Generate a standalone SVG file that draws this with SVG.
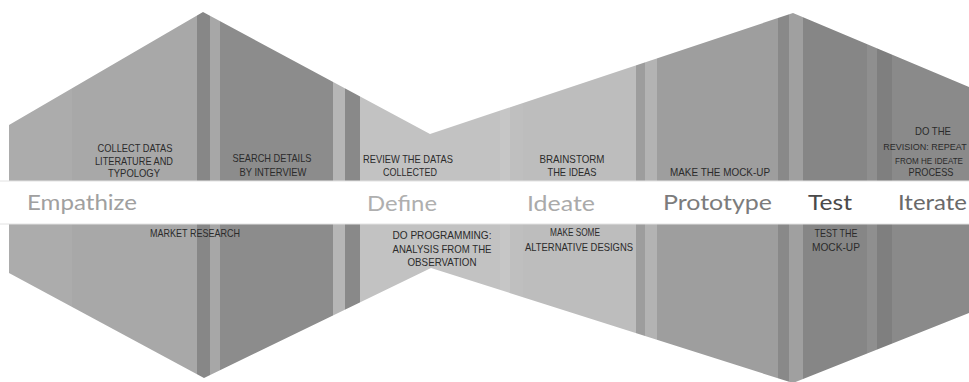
<svg xmlns="http://www.w3.org/2000/svg" width="969" height="382" viewBox="0 0 969 382">
  <defs>
    <clipPath id="outline">
      <polygon points="9,125 203,12 430,134 793,13 969,87 969,313 793,383 431,268 204,378 9,273"/>
    </clipPath>
    <style>
      .stage { font-family: "Lato", "Liberation Sans", sans-serif; font-size: 21px; }
      .note { font-family: "Liberation Sans", Arial, sans-serif; font-size: 10.5px; fill: #2b2b2b; text-anchor: middle; }
      .notes { font-family: "Liberation Sans", Arial, sans-serif; font-size: 9px; fill: #2b2b2b; text-anchor: middle; }
    </style>
  </defs>
  <rect width="969" height="382" fill="#ffffff"/>
  <g id="shape" clip-path="url(#outline)">
    <rect x="0" y="0" width="72" height="382" fill="#acacac"/>
    <rect x="72" y="0" width="125" height="382" fill="#a8a8a8"/>
    <rect x="197" y="0" width="13" height="382" fill="#878787"/>
    <rect x="210" y="0" width="10" height="382" fill="#a7a7a7"/>
    <rect x="220" y="0" width="113" height="382" fill="#8c8c8c"/>
    <rect x="333" y="0" width="12" height="382" fill="#b6b6b6"/>
    <rect x="345" y="0" width="15" height="382" fill="#898989"/>
    <rect x="360" y="0" width="140" height="382" fill="#c2c2c2"/>
    <rect x="500" y="0" width="10" height="382" fill="#c6c6c6"/>
    <rect x="510" y="0" width="13" height="382" fill="#bfbfbf"/>
    <rect x="523" y="0" width="113" height="382" fill="#bdbdbd"/>
    <rect x="636" y="0" width="9" height="382" fill="#9d9d9d"/>
    <rect x="645" y="0" width="12" height="382" fill="#b3b3b3"/>
    <rect x="657" y="0" width="121" height="382" fill="#9e9e9e"/>
    <rect x="778" y="0" width="11" height="382" fill="#898989"/>
    <rect x="789" y="0" width="14" height="382" fill="#a0a0a0"/>
    <rect x="803" y="0" width="64" height="382" fill="#868686"/>
    <rect x="867" y="0" width="10" height="382" fill="#8f8f8f"/>
    <rect x="877" y="0" width="15" height="382" fill="#7f7f7f"/>
    <rect x="892" y="0" width="77" height="382" fill="#8a8a8a"/>
  </g>
  <g id="band">
    <rect x="0" y="181" width="969" height="43" fill="#ffffff"/>
    <line x1="0" y1="181" x2="969" y2="181" stroke="#e2e2e2" stroke-width="1"/>
    <line x1="0" y1="224" x2="969" y2="224" stroke="#e2e2e2" stroke-width="1"/>
  </g>
  <g id="empathize">
    <text class="stage" x="27" y="210" fill="#a0a0a0" textLength="110" lengthAdjust="spacingAndGlyphs">Empathize</text>
    <text class="note" x="135" y="152" textLength="75" lengthAdjust="spacingAndGlyphs">COLLECT DATAS</text>
    <text class="note" x="134" y="165" textLength="78" lengthAdjust="spacingAndGlyphs">LITERATURE AND</text>
    <text class="note" x="134" y="177" textLength="52" lengthAdjust="spacingAndGlyphs">TYPOLOGY</text>
    <text class="note" x="272" y="162" textLength="79" lengthAdjust="spacingAndGlyphs">SEARCH DETAILS</text>
    <text class="note" x="273" y="176" textLength="67" lengthAdjust="spacingAndGlyphs">BY INTERVIEW</text>
    <text class="note" x="195" y="237" textLength="90" lengthAdjust="spacingAndGlyphs">MARKET RESEARCH</text>
  </g>
  <g id="define">
    <text class="stage" x="367" y="211" fill="#afafaf" textLength="70" lengthAdjust="spacingAndGlyphs">Define</text>
    <text class="note" x="408" y="163" textLength="90" lengthAdjust="spacingAndGlyphs">REVIEW THE DATAS</text>
    <text class="note" x="410" y="176" textLength="54" lengthAdjust="spacingAndGlyphs">COLLECTED</text>
    <text class="note" x="442" y="239" textLength="99" lengthAdjust="spacingAndGlyphs">DO PROGRAMMING:</text>
    <text class="note" x="442" y="253" textLength="99" lengthAdjust="spacingAndGlyphs">ANALYSIS FROM THE</text>
    <text class="note" x="442" y="266" textLength="69" lengthAdjust="spacingAndGlyphs">OBSERVATION</text>
  </g>
  <g id="ideate">
    <text class="stage" x="527" y="211" fill="#aaaaaa" textLength="68" lengthAdjust="spacingAndGlyphs">Ideate</text>
    <text class="note" x="572" y="163" textLength="65" lengthAdjust="spacingAndGlyphs">BRAINSTORM</text>
    <text class="note" x="572" y="176" textLength="49" lengthAdjust="spacingAndGlyphs">THE IDEAS</text>
    <text class="note" x="575" y="236" textLength="50" lengthAdjust="spacingAndGlyphs">MAKE SOME</text>
    <text class="note" x="579" y="251" textLength="108" lengthAdjust="spacingAndGlyphs">ALTERNATIVE DESIGNS</text>
  </g>
  <g id="prototype">
    <text class="stage" x="663" y="210" fill="#7c7c7c" textLength="109" lengthAdjust="spacingAndGlyphs">Prototype</text>
    <text class="note" x="720" y="176" textLength="100" lengthAdjust="spacingAndGlyphs">MAKE THE MOCK-UP</text>
  </g>
  <g id="test">
    <text class="stage" x="808" y="210" fill="#4a4a4a" textLength="44" lengthAdjust="spacingAndGlyphs">Test</text>
    <text class="note" x="836" y="237" textLength="43" lengthAdjust="spacingAndGlyphs">TEST THE</text>
    <text class="note" x="836" y="251" textLength="48" lengthAdjust="spacingAndGlyphs">MOCK-UP</text>
  </g>
  <g id="iterate">
    <text class="stage" x="898" y="210" fill="#6a6a6a" textLength="69" lengthAdjust="spacingAndGlyphs">Iterate</text>
    <text class="note" x="933" y="135" textLength="36" lengthAdjust="spacingAndGlyphs">DO THE</text>
    <text class="notes" x="925" y="150" font-size="8">REVISION: REPEAT</text>
    <text class="notes" x="929" y="164" textLength="68" lengthAdjust="spacingAndGlyphs">FROM HE IDEATE</text>
    <text class="note" x="931" y="176" textLength="45" lengthAdjust="spacingAndGlyphs">PROCESS</text>
  </g>
</svg>
